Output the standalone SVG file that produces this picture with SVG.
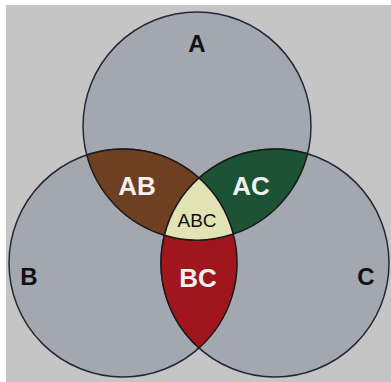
<svg xmlns="http://www.w3.org/2000/svg" width="391" height="382" viewBox="0 0 391 382">
<style>
.set{fill:#a3a7af;stroke:#232838;stroke-width:1.5}
.reg{stroke:#1a1a1a;stroke-width:1.5;stroke-linejoin:round}
.lbl{font-family:"Liberation Sans",Arial,sans-serif;font-weight:bold;text-anchor:middle}
.dark{fill:#111}
.light{fill:#f2f2f2}
</style>
<rect x="0" y="0" width="391" height="382" fill="#ffffff"/>
<rect x="6" y="5" width="385" height="377" fill="#c5c5c5"/>
<g id="circleA"><circle class="set" cx="197" cy="126" r="114"/></g>
<g id="circleB"><circle class="set" cx="123" cy="263" r="114"/></g>
<g id="circleC"><circle class="set" cx="275" cy="263" r="114"/></g>
<g id="regionAB">
<path class="reg" fill="#6f3f22" d="M86.73,154.92 A114,114 0 0 1 199,178 A114,114 0 0 0 164.43,235.25 A114,114 0 0 1 86.73,154.92 Z"/>
<text class="lbl light" x="137" y="195" font-size="26">AB</text>
</g>
<g id="regionAC">
<path class="reg" fill="#1c5335" d="M199,178 A114,114 0 0 1 307.57,153.75 A114,114 0 0 1 233.27,234.08 A114,114 0 0 0 199,178 Z"/>
<text class="lbl light" x="251" y="195" font-size="26">AC</text>
</g>
<g id="regionBC">
<path class="reg" fill="#a0161c" d="M164.43,235.25 A114,114 0 0 0 233.27,234.08 A114,114 0 0 1 199,348 A114,114 0 0 1 164.43,235.25 Z"/>
<text class="lbl light" x="198" y="287" font-size="26">BC</text>
</g>
<g id="regionABC">
<path class="reg" fill="#e2e3b4" d="M199,178 A114,114 0 0 1 233.27,234.08 A114,114 0 0 1 164.43,235.25 A114,114 0 0 1 199,178 Z"/>
<text x="197" y="227" font-family="Liberation Sans,Arial,sans-serif" font-size="19" text-anchor="middle" fill="#111">ABC</text>
</g>
<g id="labels">
<text class="lbl dark" x="197" y="52" font-size="24">A</text>
<text class="lbl dark" x="29" y="285" font-size="24">B</text>
<text class="lbl dark" x="366" y="285" font-size="24">C</text>
</g>
</svg>
